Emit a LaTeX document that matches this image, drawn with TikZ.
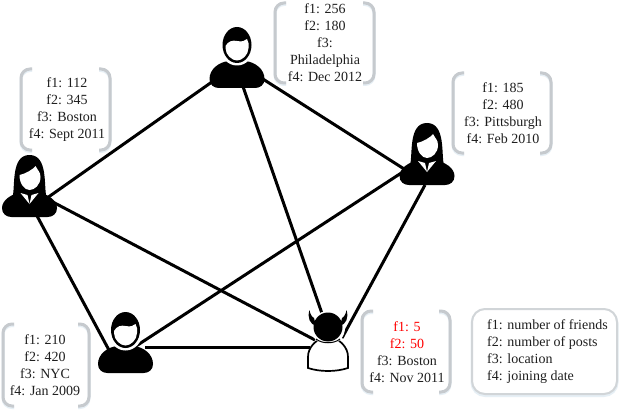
\documentclass[tikz,border=0pt]{standalone}
\usepackage{fontspec}
\setmainfont{Liberation Serif}
\definecolor{brk}{HTML}{C6CACE}
\definecolor{glow}{HTML}{E6EFF5}
\tikzset{
  x=1pt,y=-1pt,
  edge/.style={line width=3pt,black},
  infotext/.style={font=\fontsize{14}{17}\selectfont,align=center,anchor=center,inner sep=0pt,text=black!88},
  brline/.style={line width=3pt,brk,rounded corners=9pt},
  brglow/.style={line width=3pt,glow,rounded corners=9pt},
  pics/man/.style={code={
    \fill[black] (-27.5,-9) .. controls (-27.5,-19) and (-18,-26) .. (-8,-27) -- (8,-27) .. controls (18,-26) and (27.5,-19) .. (27.5,-9) .. controls (27.5,-3) and (23,0) .. (18,0) -- (-18,0) .. controls (-23,0) and (-27.5,-3) .. (-27.5,-9) -- cycle;
    \fill[white] (0,-41) ellipse (17 and 18.5);
    \fill[black] (0,-43) ellipse (14.5 and 18);
    \fill[white] (-11.5,-42) .. controls (-9,-47) and (-4,-48) .. (0,-47) .. controls (5,-46) and (8,-47) .. (10,-49) .. controls (11.5,-46) and (12,-44) .. (11.5,-40) .. controls (11.5,-33) and (5,-27.5) .. (0,-27.5) .. controls (-5,-27.5) and (-11.5,-33) .. (-11.5,-40) -- cycle;
  }},
  pics/woman/.style={code={
    \fill[black] (-27.5,-9) .. controls (-27.5,-17) and (-18,-23) .. (-8,-25) -- (8,-25) .. controls (18,-23) and (27.5,-17) .. (27.5,-9) .. controls (27.5,-3) and (23,0) .. (18,0) -- (-18,0) .. controls (-23,0) and (-27.5,-3) .. (-27.5,-9) -- cycle;
    \fill[black] (-17,-20) .. controls (-14,-30) and (-19,-62) .. (0,-62) .. controls (19,-62) and (14,-30) .. (17,-20) -- cycle;
    \fill[white] (-10,-42) .. controls (-4,-43) and (4,-48) .. (6,-51) .. controls (8,-47) and (11,-45) .. (11,-40) .. controls (11,-32) and (5,-27) .. (0,-27) .. controls (-5,-27) and (-10,-33) .. (-10,-42) -- cycle;
    \fill[white] (-9,-24) -- (0,-13) -- (-2,-22) -- cycle;
    \fill[white] (9,-24) -- (0,-13) -- (2,-22) -- cycle;
  }},
  pics/devil/.style={code={
    \filldraw[white,draw=black,line width=1.7pt] (-20,-3) -- (-20,-14) .. controls (-20,-24) and (-12,-30) .. (-8,-32) -- (8,-32) .. controls (12,-30) and (20,-24) .. (20,-14) -- (20,-3) .. controls (8,1) and (-8,1) .. (-20,-3) -- cycle;
    \fill[white] (0,-43) circle (17);
    \fill[black] (0,-44) circle (14.5);
    \fill[black] (-18.5,-61) .. controls (-21,-53) and (-18,-47) .. (-12,-45) -- (-14,-53) .. controls (-16,-54) and (-18,-57) .. (-18.5,-61) -- cycle;
    \fill[black] (18.5,-61) .. controls (21,-53) and (18,-47) .. (12,-45) -- (14,-53) .. controls (16,-54) and (18,-57) .. (18.5,-61) -- cycle;
    \draw[black,line width=1pt] (-12,-32) .. controls (-6,-27) and (6,-27) .. (12,-32);
  }}
}
\newcommand{\bracketbox}[4]{%
  \draw[brglow] (#1+11,#3+1.5) -- (#1,#3+1.5) -- (#1,#4+1.5) -- (#1+11,#4+1.5);
  \draw[brglow] (#2-11,#3+1.5) -- (#2,#3+1.5) -- (#2,#4+1.5) -- (#2-11,#4+1.5);
  \draw[brline] (#1+11,#3) -- (#1,#3) -- (#1,#4) -- (#1+11,#4);
  \draw[brline] (#2-11,#3) -- (#2,#3) -- (#2,#4) -- (#2-11,#4);
}
\begin{document}
\begin{tikzpicture}
\useasboundingbox (0,0) rectangle (622,412);
\fill[white] (0,0) rectangle (622,412);
% connector end points
\coordinate (topA) at (236,65);
\coordinate (topB) at (240,78);
\coordinate (topC) at (255,74);
\coordinate (leftA) at (30,210);
\coordinate (leftB) at (30,190);
\coordinate (leftC) at (28.5,200);
\coordinate (rightA) at (412,174);
\coordinate (rightB) at (412,166);
\coordinate (rightC) at (425,185);
\coordinate (blA) at (110,352);
\coordinate (blB) at (130,350);
\coordinate (blC) at (145,347);
\coordinate (devA) at (326,325);
\coordinate (devB) at (315,340);
\coordinate (devC) at (310,347);
\coordinate (devD) at (342,338);
% connectors
\draw[edge] (topA) -- (leftA);
\draw[edge] (topB) -- (devA);
\draw[edge] (topC) -- (rightA);
\draw[edge] (leftB) -- (devB);
\draw[edge] (leftC) -- (blA);
\draw[edge] (blB) -- (rightB);
\draw[edge] (blC) -- (devC);
\draw[edge] (rightC) -- (devD);
% people
\pic at (237,88) {man};
\pic at (125.5,373) {man};
\pic at (29.5,217) {woman};
\pic at (427,185) {woman};
\pic at (328,371) {devil};
% info brackets
\bracketbox{21}{110}{69}{150}
\bracketbox{275}{374}{3}{83}
\bracketbox{453}{551}{73}{153}
\bracketbox{3}{89}{324}{406}
\bracketbox{362}{450}{311}{392}
% info texts
\node[infotext] (infoL) at (67,110) {f1: 112\\f2: 345\\f3: Boston\\f4: Sept 2011};
\node[infotext] (infoT) at (325,43) {f1: 256\\f2: 180\\f3:\\Philadelphia\\f4: Dec 2012};
\node[infotext] (infoR) at (503,113) {f1: 185\\f2: 480\\f3: Pittsburgh\\f4: Feb 2010};
\node[infotext] (infoB) at (45,365) {f1: 210\\f2: 420\\f3: NYC\\f4: Jan 2009};
\node[infotext] (infoD) at (407,352) {\textcolor{red}{f1: 5}\\\textcolor{red}{f2: 50}\\f3: Boston\\f4: Nov 2011};
% legend
\draw[line width=3pt,glow,rounded corners=13pt] (472,310.5) rectangle (617,395.5);
\draw[line width=2pt,brk!80,fill=white,rounded corners=13pt] (472,309) rectangle (617,394);
\node[infotext,align=left,anchor=west] (legend) at (487,352) {f1: number of friends\\f2: number of posts\\f3: location\\f4: joining date};
\end{tikzpicture}
\end{document}
